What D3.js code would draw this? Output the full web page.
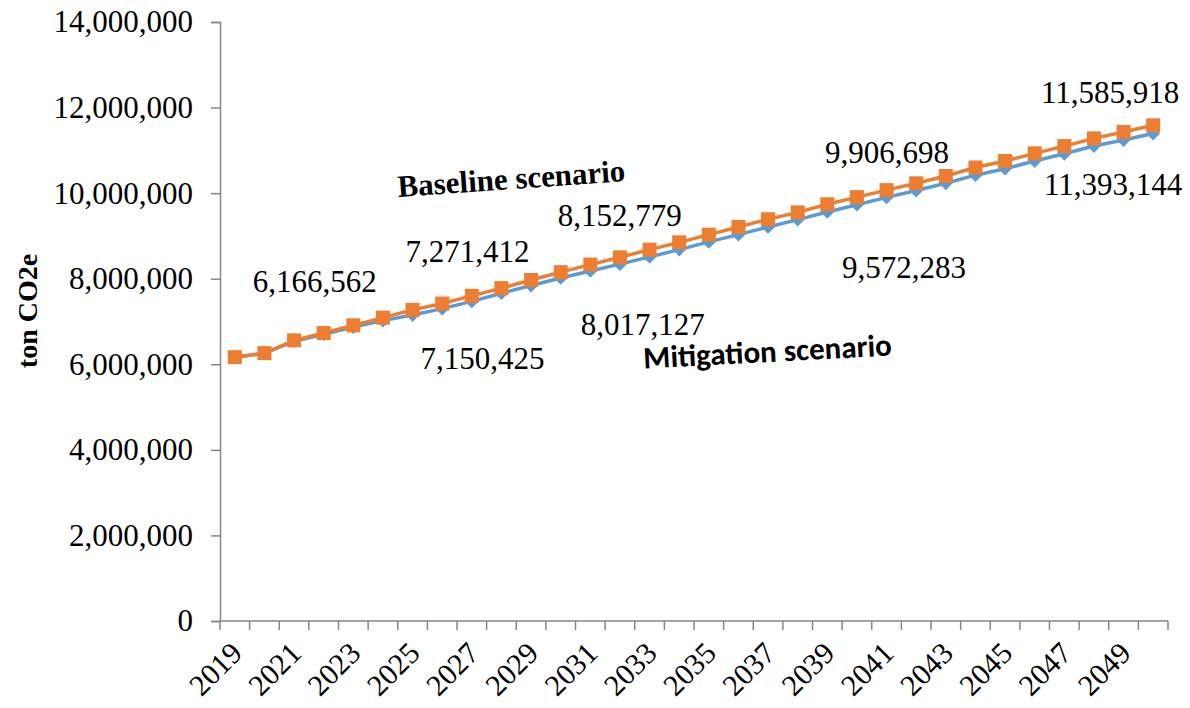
<!DOCTYPE html>
<html>
<head>
<meta charset="utf-8">
<script src="https://cdn.jsdelivr.net/npm/d3@7"></script>
<style>
  body { margin: 0; background: white; }
  svg { display: block; }
  .serif { font-family: "Times New Roman", "Liberation Serif", serif; }
</style>
</head>
<body>
<svg id="chart"></svg>
<script>
// years on the category axis
var years = d3.range(2019, 2051);

// baseline scenario, ton CO2e
var baseline = [
  6166562, 6260000, 6560000, 6730000, 6910000, 7090000, 7271412, 7420000,
  7600000, 7780000, 7970000, 8152779, 8330000, 8500000, 8680000, 8850000,
  9030000, 9210000, 9390000, 9550000, 9740000, 9906698, 10070000, 10230000,
  10400000, 10600000, 10750000, 10930000, 11100000, 11280000, 11430000, 11585918
];

// mitigation scenario, ton CO2e
var mitigation = [
  6166562, 6255000, 6540000, 6700000, 6870000, 7020000, 7150425, 7300000,
  7470000, 7660000, 7840000, 8017127, 8180000, 8340000, 8510000, 8680000,
  8860000, 9030000, 9210000, 9380000, 9560000, 9730000, 9900000, 10060000,
  10230000, 10420000, 10570000, 10750000, 10920000, 11100000, 11240000, 11393144
];

var yTicks = [0, 2000000, 4000000, 6000000, 8000000, 10000000, 12000000, 14000000];

// value labels written on the chart
var baseLabels = ["6,166,562", "7,271,412", "8,152,779", "9,906,698", "11,585,918"];
var baseLabelYears = [2019, 2025, 2030, 2040, 2050];
var mitLabels = ["7,150,425", "8,017,127", "9,572,283", "11,393,144"];
var mitLabelYears = [2025, 2030, 2040, 2050];

var W = 1190, H = 708;
var margin = {top: 22, right: 22, bottom: 87, left: 220};
var width = W - margin.left - margin.right,
    height = H - margin.top - margin.bottom;

var svg = d3.select("#chart").attr("width", W).attr("height", H);

var g = svg.append("g")
  .attr("transform", "translate(" + margin.left + "," + margin.top + ")");

var x = d3.scaleBand().domain(years).range([0, width]).padding(0);
var y = d3.scaleLinear().domain([0, 14000000]).range([height, 0]);

var axisColor = "#868686";

// y axis
var yAxis = g.append("g")
  .call(d3.axisLeft(y).tickValues(yTicks).tickSize(9).tickPadding(18)
          .tickFormat(d3.format(",")));
yAxis.attr("font-family", null).attr("font-size", null);
yAxis.select(".domain").attr("stroke", axisColor).attr("stroke-width", 1.5);
yAxis.selectAll(".tick line").attr("stroke", axisColor).attr("stroke-width", 1.5);
yAxis.selectAll(".tick text")
  .attr("class", "serif").style("font-size", "31px").attr("fill", "#000");

// x axis: line, ticks between categories, labels every other year
var xAxis = g.append("g").attr("transform", "translate(0," + height + ")");
xAxis.append("line")
  .attr("x1", 0).attr("x2", width)
  .attr("stroke", axisColor).attr("stroke-width", 1.5);
xAxis.selectAll("line.tk")
  .data(years.concat([null]))
  .enter().append("line")
  .attr("class", "tk")
  .attr("x1", d => d === null ? width : x(d))
  .attr("x2", d => d === null ? width : x(d))
  .attr("y1", 0).attr("y2", 9)
  .attr("stroke", axisColor).attr("stroke-width", 1.5);
xAxis.selectAll("text")
  .data(years.filter(d => (d - 2019) % 2 === 0))
  .enter().append("text")
  .attr("class", "serif")
  .attr("transform", d => "translate(" + (x(d) + x.bandwidth() / 2 + 9) + ",34) rotate(-45)")
  .attr("text-anchor", "end")
  .style("font-size", "30px")
  .text(d => d);

// y axis title
svg.append("text")
  .attr("class", "serif")
  .attr("transform", "translate(37,311) rotate(-90)")
  .attr("text-anchor", "middle")
  .style("font-size", "28px").style("font-weight", "bold")
  .text("ton CO2e");

var cx = d => x(d) + x.bandwidth() / 2;

var line = d3.line()
  .x((d, i) => cx(years[i]))
  .y(d => y(d));

// mitigation series (below)
g.append("path")
  .datum(mitigation)
  .attr("fill", "none")
  .attr("stroke", "#5B9BD5")
  .attr("stroke-width", 3.5)
  .attr("d", line);

g.selectAll("path.dia")
  .data(mitigation)
  .enter().append("path")
  .attr("class", "dia")
  .attr("d", d3.symbol().type(d3.symbolDiamond2).size(120))
  .attr("transform", (d, i) => "translate(" + cx(years[i]) + "," + y(d) + ")")
  .attr("fill", "#5B9BD5");

// baseline series (on top)
g.append("path")
  .datum(baseline)
  .attr("fill", "none")
  .attr("stroke", "#ED7D31")
  .attr("stroke-width", 3.5)
  .attr("d", line);

g.selectAll("rect.sq")
  .data(baseline)
  .enter().append("rect")
  .attr("class", "sq")
  .attr("x", (d, i) => cx(years[i]) - 7)
  .attr("y", d => y(d) - 7)
  .attr("width", 14).attr("height", 14)
  .attr("fill", "#ED7D31");

// value annotations, offset from their points (label centre)
var baseOffsets = [[80, -65], [55, -48], [59, -46], [30, -34], [-43, -22]];
var mitOffsets = [[70, 54], [82, 57], [47, 73], [-40, 61]];

function annotate(labels, yrs, series, offsets) {
  g.selectAll(null)
    .data(labels)
    .enter().append("text")
    .attr("class", "serif")
    .attr("x", (d, i) => cx(yrs[i]) + offsets[i][0])
    .attr("y", (d, i) => y(series[years.indexOf(yrs[i])]) + offsets[i][1])
    .attr("text-anchor", "middle")
    .style("font-size", "31px")
    .text(d => d);
}
annotate(baseLabels, baseLabelYears, baseline, baseOffsets);
annotate(mitLabels, mitLabelYears, mitigation, mitOffsets);

// series names
svg.append("text")
  .attr("class", "serif")
  .attr("transform", "translate(512,189) rotate(-4)")
  .attr("text-anchor", "middle")
  .style("font-size", "31px").style("font-weight", "bold")
  .text("Baseline scenario");

svg.append("text")
  .attr("transform", "translate(768,362) rotate(-3)")
  .attr("text-anchor", "middle")
  .style("font-family", "Carlito, 'Open Sans', 'Liberation Sans', sans-serif")
  .style("font-size", "31px").style("font-weight", "bold")
  .text("Mitigation scenario");
</script>
</body>
</html>
